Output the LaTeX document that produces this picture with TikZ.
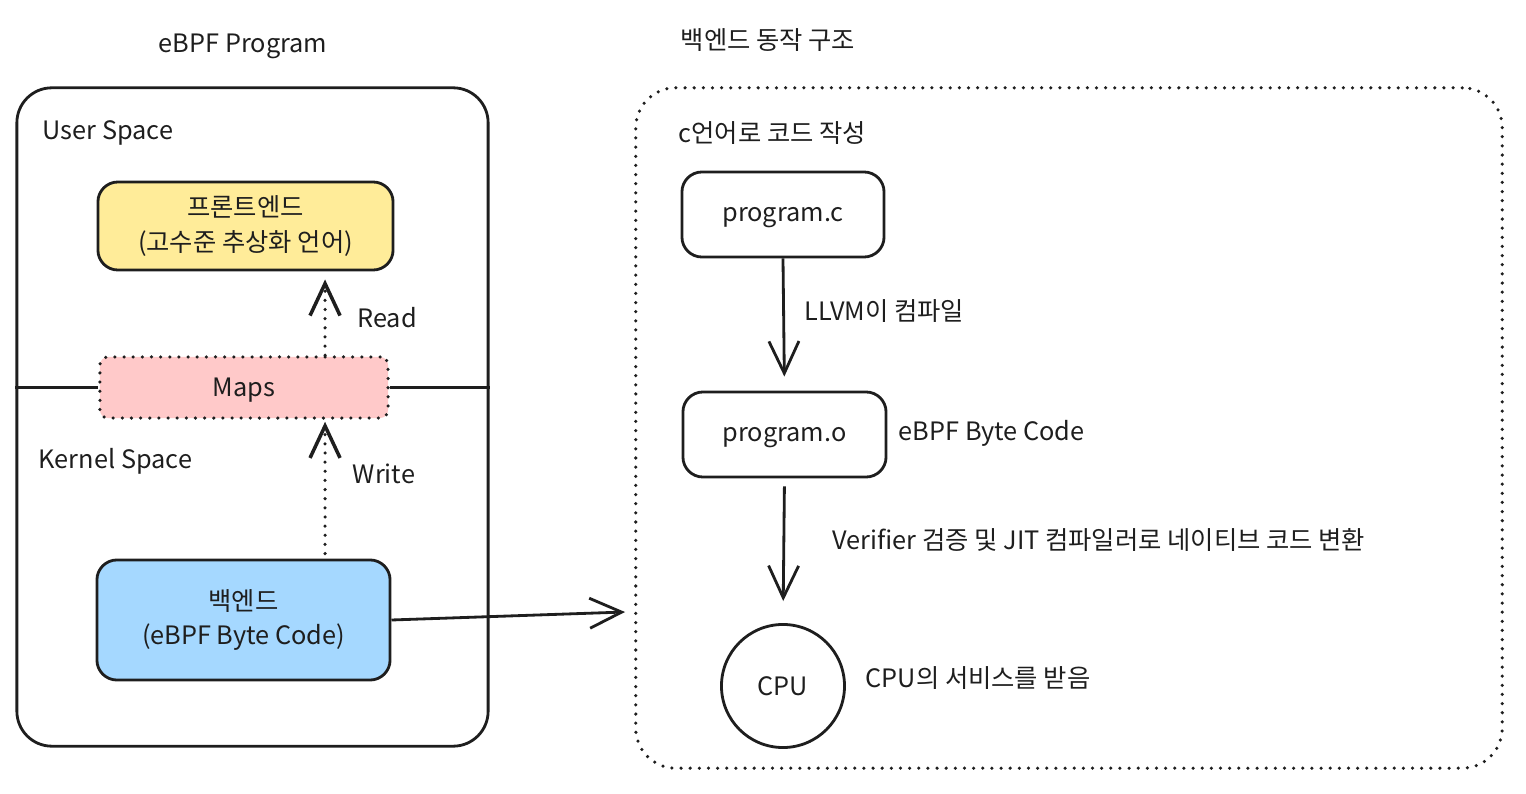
\documentclass[tikz,border=0pt]{standalone}
\usepackage{fontspec}
\setmainfont{Noto Sans CJK KR}
\usetikzlibrary{arrows.meta}
\definecolor{ink}{HTML}{1E1E1E}
\definecolor{feyellow}{HTML}{FFEC99}
\definecolor{mapred}{HTML}{FFC9C9}
\definecolor{beblue}{HTML}{A5D8FF}

\begin{document}
\begin{tikzpicture}[x=0.01cm, y=-0.01cm, font=\fontsize{7.2}{9.7}\selectfont, text=ink,
	box/.style={draw=ink, line width=0.8pt, rounded corners=0.2cm, inner sep=0pt, align=center},
	oneline/.style={text depth=0pt},
	dotline/.style={draw=ink, line width=1pt, line cap=round, dash pattern=on 0pt off 2.6pt},
	arr/.style={-{Straight Barb[length=3.2mm,width=3mm]}, draw=ink, line width=0.8pt},
	lbl/.style={anchor=west, inner sep=0pt}]
		\useasboundingbox (0,0) rectangle (1526,794);
		
		% Left: eBPF program
		\node (title) at (243,46) {eBPF Program};
		\node[box, rounded corners=0.35cm, minimum width=4.71cm, minimum height=6.58cm] (prog) at (252.5,417) {};
		\node[lbl] (user) at (42,133) {User Space};
		\node[lbl] (kernel) at (38,461) {Kernel Space};
		\node[box, fill=feyellow, minimum width=2.95cm, minimum height=0.88cm] (front) at (245.5,226) {프론트엔드\\(고수준 추상화 언어)};
		\node[box, oneline, dotline, fill=mapred, rounded corners=0.08cm, minimum width=2.88cm, minimum height=0.61cm] (maps) at (244,387.5) {Maps};
		\node[box, fill=beblue, minimum width=2.93cm, minimum height=1.2cm] (back) at (243.5,620) {백엔드\\(eBPF Byte Code)};
		\node (read) at (387,318) {Read};
		\node (write) at (384,474) {Write};
		
		% Right: backend flow
		\node (flowtitle) at (768,40) {백엔드 동작 구조};
		\node[box, dotline, rounded corners=0.4cm, minimum width=8.66cm, minimum height=6.8cm] (flow) at (1069,428) {};
		\node[lbl] (ccode) at (678,133) {c언어로 코드 작성};
		\node[box, oneline, minimum width=2.02cm, minimum height=0.85cm] (src) at (783,214.5) {program.c};
		\node[box, oneline, minimum width=2.03cm, minimum height=0.85cm] (obj) at (784.5,434.5) {program.o};
		\node[draw=ink, line width=0.8pt, circle, oneline, minimum size=1.23cm, inner sep=0pt] (cpu) at (783,686) {CPU};
		\node[lbl] (llvm) at (804,311) {LLVM이 컴파일};
		\node[lbl] (bytecode) at (898,433) {eBPF Byte Code};
		\node[lbl] (jit) at (832,540) {Verifier 검증 및 JIT 컴파일러로 네이티브 코드 변환};
		\node[lbl] (serve) at (865,678) {CPU의 서비스를 받음};
		\coordinate (entry) at (625,612);
		
		% Edges
		\draw[ink, line width=0.8pt] (prog.west |- maps) -- (maps.west);
		\draw[ink, line width=0.8pt] (maps.east) -- (prog.east |- maps);
		\draw[arr, dotline, shorten >=0.08cm] ([xshift=0.81cm]maps.north) -- ([xshift=0.81cm]maps.north |- front.south);
		\draw[arr, dotline, shorten <=0.05cm, shorten >=0.02cm] ([xshift=0.815cm]back.north) -- ([xshift=0.815cm]back.north |- maps.south);
		\draw[arr] (back.east) -- (entry);
		\draw[arr, shorten >=0.14cm] (src.south) -- (obj.north);
		\draw[arr, shorten <=0.08cm, shorten >=0.22cm] (obj.south) -- (cpu.north);
		
	\end{tikzpicture}
\end{document}
